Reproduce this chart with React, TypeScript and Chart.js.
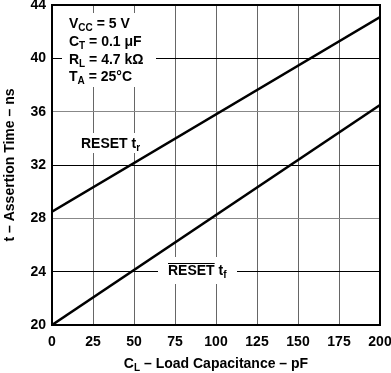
import React, { useEffect, useRef } from "react";
import { Chart, registerables } from "chart.js";

Chart.register(...registerables);

const capacitance = [0, 200];
const resetRise = [28.5, 43.1];
const resetFall = [20, 36.5];
const xTicks = [0, 25, 50, 75, 100, 125, 150, 175, 200];
const yTicks = [20, 24, 28, 32, 36, 40, 44];

const FONT = '"Liberation Sans", Arial, Helvetica, sans-serif';

type Seg = { t: string; sub?: boolean };

function drawRich(ctx: CanvasRenderingContext2D, segs: Seg[], x: number, y: number, size: number, align: "left" | "center" = "left") {
  const main = `bold ${size}px ${FONT}`;
  const sub = `bold ${Math.round(size * 0.72)}px ${FONT}`;
  let total = 0;
  for (const s of segs) {
    ctx.font = s.sub ? sub : main;
    total += ctx.measureText(s.t).width;
  }
  let cx = align === "center" ? x - total / 2 : x;
  ctx.textBaseline = "alphabetic";
  ctx.textAlign = "left";
  for (const s of segs) {
    ctx.font = s.sub ? sub : main;
    ctx.fillText(s.t, cx, s.sub ? y + 3 : y);
    cx += ctx.measureText(s.t).width;
  }
  return total;
}

const annotPlugin = {
  id: "annot",
  beforeDatasetsDraw(chart: any) {
    const ctx = chart.ctx as CanvasRenderingContext2D;
    ctx.save();
    ctx.fillStyle = "#fff";
    ctx.fillRect(62, 13, 94, 74);
    ctx.fillRect(75, 133, 73, 20);
    ctx.fillRect(158, 257, 79, 27);
    ctx.restore();
  },
  afterDraw(chart: any) {
    const ctx = chart.ctx as CanvasRenderingContext2D;
    const a = chart.chartArea;
    ctx.save();
    ctx.strokeStyle = "#000";
    ctx.lineWidth = 2;
    ctx.strokeRect(a.left, a.top, a.right - a.left, a.bottom - a.top);
    ctx.fillStyle = "#000";
    drawRich(ctx, [{ t: "V" }, { t: "CC", sub: true }, { t: " = 5 V" }], 69, 28, 14);
    drawRich(ctx, [{ t: "C" }, { t: "T", sub: true }, { t: " = 0.1 μF" }], 69, 46, 14);
    drawRich(ctx, [{ t: "R" }, { t: "L", sub: true }, { t: " = 4.7 kΩ" }], 69, 64, 14);
    drawRich(ctx, [{ t: "T" }, { t: "A", sub: true }, { t: " = 25°C" }], 69, 81, 14);
    drawRich(ctx, [{ t: "RESET t" }, { t: "r", sub: true }], 81, 148, 14);
    drawRich(ctx, [{ t: "RESET t" }, { t: "f", sub: true }], 168, 275, 14);
    ctx.font = `bold 14px ${FONT}`;
    const rw = ctx.measureText("RESET").width;
    ctx.lineWidth = 1;
    ctx.beginPath();
    ctx.moveTo(168, 263.5);
    ctx.lineTo(168 + rw, 263.5);
    ctx.stroke();
    drawRich(ctx, [{ t: "C" }, { t: "L", sub: true }, { t: " – Load Capacitance – pF" }], (a.left + a.right) / 2, 368, 14, "center");
    ctx.restore();
  },
};

export default function App() {
  const ref = useRef<HTMLCanvasElement>(null);
  useEffect(() => {
    document.body.style.margin = "0";
    const chart = new Chart(ref.current!, {
      type: "line",
      data: {
        datasets: [
          {
            label: "RESET tr",
            data: capacitance.map((x, i) => ({ x, y: resetRise[i] })),
            borderColor: "#000",
            borderWidth: 2.5,
            pointRadius: 0,
            tension: 0,
          },
          {
            label: "RESET tf",
            data: capacitance.map((x, i) => ({ x, y: resetFall[i] })),
            borderColor: "#000",
            borderWidth: 2.5,
            pointRadius: 0,
            tension: 0,
          },
        ],
      },
      options: {
        animation: false,
        responsive: false,
        layout: { padding: { top: 5, right: 11, left: 0, bottom: 0 } },
        plugins: { legend: { display: false }, tooltip: { enabled: false } },
        scales: {
          x: {
            type: "linear",
            min: 0,
            max: 200,
            afterBuildTicks: (s: any) => { s.ticks = xTicks.map((v) => ({ value: v })); },
            afterFit: (s: any) => { s.height = 48; s.paddingLeft = 0; s.paddingRight = 0; },
            ticks: { color: "#000", font: { family: FONT, size: 14, weight: "bold" }, padding: 9, maxRotation: 0 },
            grid: { color: "#666", lineWidth: 1, drawTicks: false },
            border: { display: false },
          },
          y: {
            type: "linear",
            min: 20,
            max: 44,
            afterBuildTicks: (s: any) => { s.ticks = yTicks.map((v) => ({ value: v })); },
            afterFit: (s: any) => { s.width = 52; s.paddingTop = 0; s.paddingBottom = 0; },
            ticks: { color: "#000", font: { family: FONT, size: 14, weight: "bold" }, padding: 6 },
            grid: {
              color: (c: any) => ((c.tick && (c.tick.value - 20) % 8 === 0) ? "#888" : "#000"),
              lineWidth: 1,
              drawTicks: false,
            },
            border: { display: false },
            title: {
              display: true,
              text: "t – Assertion Time – ns",
              color: "#000",
              font: { family: FONT, size: 14, weight: "bold" },
              padding: { top: 2, bottom: 0 },
            },
          },
        },
      },
      plugins: [annotPlugin],
    } as any);
    return () => chart.destroy();
  }, []);
  return (
    <div style={{ width: 391, height: 373 }}>
      <canvas ref={ref} width={391} height={373} style={{ display: "block" }} />
    </div>
  );
}
